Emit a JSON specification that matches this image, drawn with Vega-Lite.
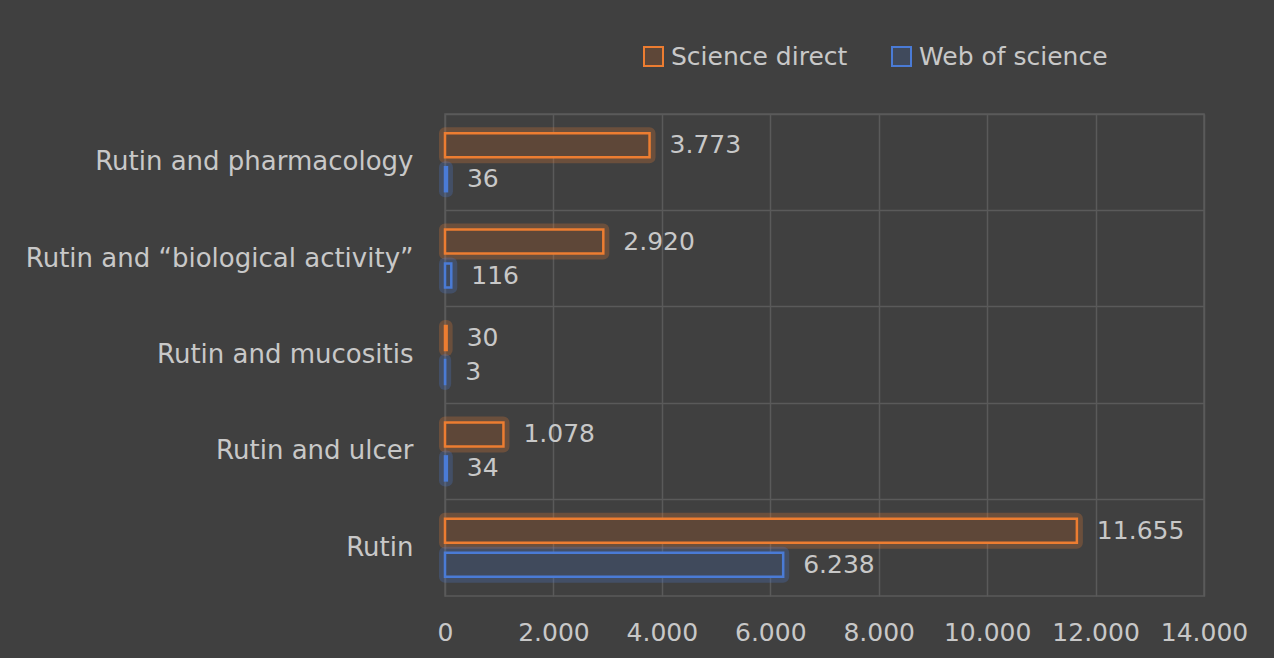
{
  "$schema": "https://vega.github.io/schema/vega-lite/v6.json",
  "width": 759,
  "height": 482,
  "autosize": {"type": "none"},
  "padding": {"left": 445, "top": 114, "right": 70, "bottom": 62},
  "background": "#404040",
  "data": {
    "values": [
      {"query": "Rutin and pharmacology", "source": "Science direct", "count": 3773},
      {"query": "Rutin and pharmacology", "source": "Web of science", "count": 36},
      {"query": "Rutin and “biological activity”", "source": "Science direct", "count": 2920},
      {"query": "Rutin and “biological activity”", "source": "Web of science", "count": 116},
      {"query": "Rutin and mucositis", "source": "Science direct", "count": 30},
      {"query": "Rutin and mucositis", "source": "Web of science", "count": 3},
      {"query": "Rutin and ulcer", "source": "Science direct", "count": 1078},
      {"query": "Rutin and ulcer", "source": "Web of science", "count": 34},
      {"query": "Rutin", "source": "Science direct", "count": 11655},
      {"query": "Rutin", "source": "Web of science", "count": 6238}
    ]
  },
  "encoding": {
    "y": {
      "field": "query",
      "type": "nominal",
      "sort": ["Rutin and pharmacology", "Rutin and “biological activity”", "Rutin and mucositis", "Rutin and ulcer", "Rutin"],
      "scale": {"paddingInner": 0, "paddingOuter": 0},
      "axis": {
        "title": null,
        "domain": false,
        "ticks": false,
        "grid": true,
        "bandPosition": 0,
        "gridColor": "#5a5a5a",
        "gridWidth": 1.5,
        "labelFont": "DejaVu Sans",
        "labelFontSize": 26,
        "labelColor": "#c8c8c8",
        "labelPadding": 32,
        "labelLimit": 500
      }
    },
    "yOffset": {
      "field": "source",
      "type": "nominal",
      "sort": ["Science direct", "Web of science"],
      "scale": {"paddingInner": 0.294, "paddingOuter": 0.565}
    },
    "x": {
      "field": "count",
      "type": "quantitative",
      "scale": {"domain": [0, 14000], "nice": false},
      "axis": {
        "title": null,
        "values": [0, 2000, 4000, 6000, 8000, 10000, 12000, 14000],
        "format": ",.0f",
        "labelOverlap": false,
        "labelFlush": false,
        "domain": false,
        "ticks": false,
        "grid": true,
        "gridColor": "#5a5a5a",
        "gridWidth": 1.5,
        "labelFont": "DejaVu Sans",
        "labelFontSize": 25,
        "labelColor": "#c8c8c8",
        "labelPadding": 24
      }
    }
  },
  "layer": [
    {
      "mark": {"type": "bar", "fill": "transparent", "strokeWidth": 12, "strokeOpacity": 0.25, "strokeJoin": "round"},
      "encoding": {
        "stroke": {
          "field": "source",
          "type": "nominal",
          "scale": {"domain": ["Science direct", "Web of science"], "range": ["#ED7D31", "#4A7BD6"]}
        }
      }
    },
    {
      "mark": {"type": "bar", "strokeWidth": 2.5},
      "encoding": {
        "fill": {
          "field": "source",
          "type": "nominal",
          "scale": {"domain": ["Science direct", "Web of science"], "range": ["#5e4738", "#404a5c"]},
          "legend": null
        },
        "stroke": {
          "field": "source",
          "type": "nominal",
          "scale": {"domain": ["Science direct", "Web of science"], "range": ["#ED7D31", "#4A7BD6"]},
          "legend": {
            "title": null,
            "orient": "none",
            "direction": "horizontal",
            "legendX": 196,
            "legendY": -70,
            "symbolType": "square",
            "symbolSize": 361,
            "symbolStrokeWidth": 2,
            "symbolFillColor": "#404040",
            "labelFont": "DejaVu Sans",
            "labelFontSize": 25,
            "labelColor": "#c8c8c8",
            "labelLimit": 400,
            "labelOffset": 5,
            "columnPadding": 40
          }
        }
      }
    },
    {
      "mark": {"type": "text", "align": "left", "baseline": "middle", "dx": 20, "font": "DejaVu Sans", "fontSize": 25, "color": "#c8c8c8"},
      "encoding": {
        "text": {"field": "count", "type": "quantitative", "format": ",.0f"}
      }
    }
  ],
  "config": {
    "view": {"stroke": "#5a5a5a", "strokeWidth": 1.5},
    "locale": {
      "number": {"decimal": ",", "thousands": ".", "grouping": [3], "currency": ["", ""]}
    }
  }
}
